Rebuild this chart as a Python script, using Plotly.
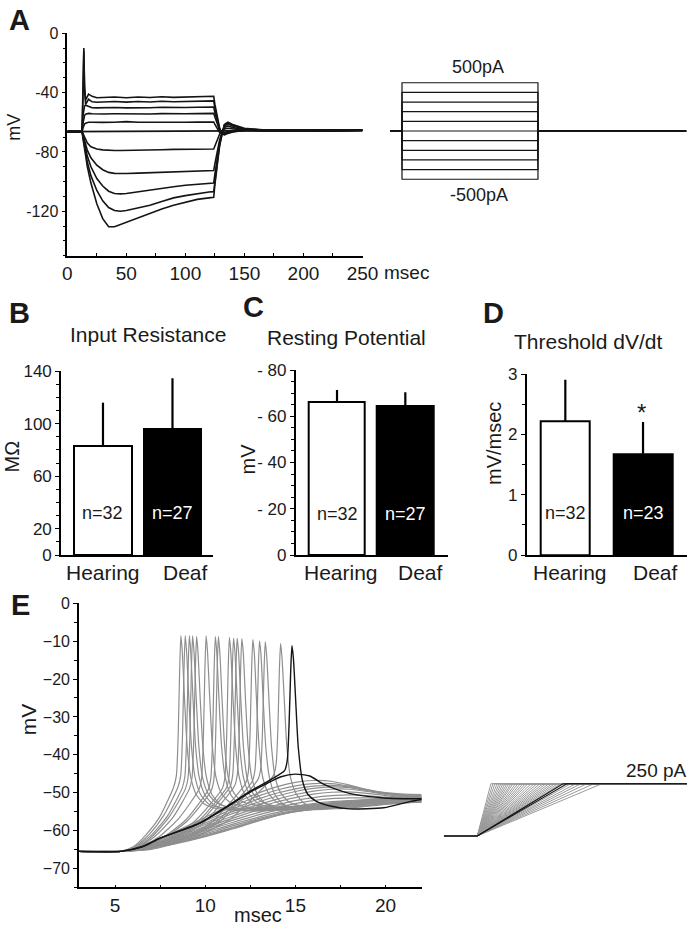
import plotly.graph_objects as go

W, H = 688, 927
FONT = "Liberation Sans, Arial, Helvetica, sans-serif"

def dom_x(a, b):
    return [max(0, a / W), min(1, b / W)]

def dom_y(top, bottom):
    return [max(0, 1 - bottom / H), min(1, 1 - top / H)]

# ---------------- Panel A data ----------------
tA_dep = [0, 12.5, 13.2, 14, 14.6, 15.5, 18, 21, 25, 30, 40, 50, 60, 70, 80, 90, 100, 110, 120, 124,
          125, 127, 129, 131, 133, 136, 140, 145, 150, 170, 200, 250]
vA_500 = [-66.3, -66.3, -40, -10, -35, -45, -41, -42.5, -43.5, -43.2, -43, -43.5, -43, -43.3, -42.8, -43.2,
          -43, -42.8, -42.5, -42.5, -48, -57, -64, -67.5, -68.5, -67.5, -66.5, -66, -65.5, -65.5, -65.5, -65.3]
vA_400 = [-66.3, -66.3, -45, -12, -38, -48, -44.5, -46.2, -46.5, -46.3, -46, -46.4, -46, -46.3, -45.8, -46.2,
          -46, -45.8, -45.6, -45.6, -50.5, -58.5, -64.5, -67.5, -68.3, -67.3, -66.3, -65.8, -65.5, -65.5, -65.5, -65.3]
vA_300 = [-66.3, -66.3, -56, -51, -49, -48.5, -49.5, -50.2, -50.3, -50.2, -50, -50.3, -50, -50.2, -49.9, -50.1,
          -50, -49.9, -49.7, -49.7, -53.5, -60, -65, -67.5, -68, -67, -66.2, -65.8, -65.5, -65.5, -65.5, -65.3]
vA_200 = [-66.3, -66.3, -61, -57, -55.5, -54.5, -54, -54.3, -54.5, -54.4, -54.3, -54.5, -54.3, -54.4, -54.2, -54.4,
          -54.3, -54.2, -54, -54, -56.5, -61.5, -65.5, -67.5, -67.8, -66.8, -66, -65.7, -65.5, -65.5, -65.5, -65.3]
vA_100 = [-66.3, -66.3, -64, -62.2, -61.2, -60.6, -60, -60, -60.2, -60.1, -60, -59.6, -60, -60.1, -59.9, -60.2,
          -60, -59.9, -59.8, -59.8, -61.5, -64.5, -66.8, -67.5, -67.3, -66.5, -66, -65.7, -65.5, -65.5, -65.5, -65.3]
vA_0 = [-66.3, -66.3, -66.3, -66.3, -66.3, -66.3, -66.3, -66.3, -66.3, -66.3, -66.3, -66.3, -66.3, -66.3, -66.3, -66.3,
        -66.3, -66.3, -66.3, -66.3, -66.3, -66.3, -66.3, -66.3, -66.2, -66, -65.8, -65.7, -65.6, -65.5, -65.5, -65.3]

tA_hyp = [0, 12.5, 13.5, 15, 17, 20, 25, 30, 35, 40, 45, 50, 60, 70, 80, 90, 100, 110, 120, 124,
          125, 127, 129, 131, 133, 136, 140, 150, 170, 200, 250]
vA_m100 = [-66.3, -66.3, -68, -71, -74, -76.5, -78, -78.6, -79, -79, -79, -79, -78.8, -78.6, -78.5, -78.3, -78.2,
           -78.1, -78, -78, -76, -72, -68, -66, -64.5, -64, -64.5, -65.5, -66, -66, -65.5]
vA_m200 = [-66.3, -66.3, -69, -74, -79, -84, -89, -92, -93.8, -94.5, -94.8, -94.6, -94.3, -94, -93.6, -93.3, -93,
           -92.8, -92.6, -92.6, -88, -80, -72, -67, -63.5, -62.5, -63.5, -65, -65.8, -66, -65.5]
vA_m300 = [-66.3, -66.3, -70, -76, -83, -90, -98, -103, -106.5, -108, -108.3, -108, -107, -105.8, -104.5, -103.5,
           -102.5, -101.8, -101.2, -101, -95, -84, -74, -67.5, -62.5, -61, -62.5, -64.5, -65.5, -66, -65.5]
vA_m400 = [-66.3, -66.3, -71, -78, -87, -96, -106, -113, -117.5, -119.5, -120, -119.5, -118, -116, -113.5, -111,
           -109.5, -108, -107, -106.8, -99, -87, -75, -67.5, -62, -60.5, -62, -64.5, -65.5, -66, -65.5]
vA_m500 = [-66.3, -66.3, -72, -80, -90, -101, -115, -125, -130.5, -130.5, -129, -127.3, -124, -121.5, -118.5, -116,
           -113.8, -112, -111, -110.6, -102, -89, -76, -68, -61.5, -60, -61.5, -64, -65.5, -66, -65.5]

A_ticks = [0, 50, 100, 150, 200, 250]
A_yticks = [-120, -80, -40, 0]

# Panel A stimulus (current steps, pA)
stepA_currents = [500, 400, 300, 200, 100, 0, -100, -200, -300, -400, -500]
stepA_on, stepA_off = 13, 124
stepA_start, stepA_end = 3.2, 245

# ---------------- Panels B-D data ----------------
groups = ["Hearing", "Deaf"]
B_mean = [83.2, 95.7]
B_err = [32.7, 38.8]
B_n = ["n=32", "n=27"]
C_mean = [-66.0, -64.4]
C_err = [5.4, 6.0]
C_n = ["n=32", "n=27"]
D_mean = [2.22, 1.68]
D_err = [0.69, 0.53]
D_n = ["n=32", "n=23"]

# ---------------- Panel E data ----------------
E_spk_t = [
    [3, 5.3, 6.0, 6.7, 7.5, 8.25, 8.40, 8.50, 8.58, 8.65, 8.73, 8.85, 9.00, 9.20, 9.50, 9.95, 10.65, 12, 14, 16, 18, 20, 22],
    [3, 5.3, 6.1, 6.9, 7.7, 8.49, 8.64, 8.74, 8.82, 8.89, 8.97, 9.09, 9.24, 9.44, 9.74, 10.19, 10.89, 12, 14, 16, 18, 20, 22],
    [3, 5.3, 6.1, 7.0, 7.9, 8.72, 8.87, 8.97, 9.05, 9.12, 9.20, 9.32, 9.47, 9.67, 9.97, 10.42, 11.12, 12.5, 14, 16, 18, 20, 22],
    [3, 5.3, 6.2, 7.1, 8.0, 8.90, 9.05, 9.15, 9.23, 9.30, 9.38, 9.50, 9.65, 9.85, 10.15, 10.60, 11.30, 12.5, 14, 16, 18, 20, 22],
    [3, 5.3, 6.2, 7.2, 8.2, 9.12, 9.27, 9.37, 9.45, 9.52, 9.60, 9.72, 9.87, 10.07, 10.37, 10.82, 11.52, 13, 15, 17, 19, 22],
    [3, 5.3, 6.3, 7.4, 8.5, 9.65, 9.80, 9.90, 9.98, 10.05, 10.13, 10.25, 10.40, 10.60, 10.90, 11.35, 12.05, 13.5, 15, 17, 19, 22],
    [3, 5.3, 6.4, 7.6, 8.9, 10.16, 10.31, 10.41, 10.49, 10.56, 10.64, 10.76, 10.91, 11.11, 11.41, 11.86, 12.56, 14, 16, 18, 20, 22],
    [3, 5.3, 6.4, 7.7, 9.0, 10.33, 10.48, 10.58, 10.66, 10.73, 10.81, 10.93, 11.08, 11.28, 11.58, 12.03, 12.73, 14, 16, 18, 20, 22],
    [3, 5.3, 6.5, 7.9, 9.4, 10.94, 11.09, 11.19, 11.27, 11.34, 11.42, 11.54, 11.69, 11.89, 12.19, 12.64, 13.34, 15, 17, 19, 22],
    [3, 5.3, 6.5, 8.0, 9.6, 11.17, 11.32, 11.42, 11.50, 11.57, 11.65, 11.77, 11.92, 12.12, 12.42, 12.87, 13.57, 15, 17, 19, 22],
    [3, 5.3, 6.6, 8.1, 9.7, 11.37, 11.52, 11.62, 11.70, 11.77, 11.85, 11.97, 12.12, 12.32, 12.62, 13.07, 13.77, 15.5, 17.5, 19.5, 22],
    [3, 5.3, 6.6, 8.2, 9.9, 11.63, 11.78, 11.88, 11.96, 12.03, 12.11, 12.23, 12.38, 12.58, 12.88, 13.33, 14.03, 15.5, 17.5, 19.5, 22],
    [3, 5.3, 6.7, 8.4, 10.3, 12.24, 12.39, 12.49, 12.57, 12.64, 12.72, 12.84, 12.99, 13.19, 13.49, 13.94, 14.64, 16, 18, 20, 22],
    [3, 5.3, 6.8, 8.6, 10.6, 12.61, 12.76, 12.86, 12.94, 13.01, 13.09, 13.21, 13.36, 13.56, 13.86, 14.31, 15.01, 16.5, 18.5, 20.5, 22],
    [3, 5.3, 6.8, 8.7, 10.8, 12.93, 13.08, 13.18, 13.26, 13.33, 13.41, 13.53, 13.68, 13.88, 14.18, 14.63, 15.33, 17, 19, 22],
    [3, 5.3, 7.0, 9.0, 11.3, 13.78, 13.93, 14.03, 14.11, 14.18, 14.26, 14.38, 14.53, 14.73, 15.03, 15.48, 16.18, 18, 20, 22],
]
E_spk_v = [
    [-65.5, -65.5, -64.3, -61.2, -56.2, -48.5, -45.5, -35, -18, -8.5, -13, -25, -38, -46, -50.5, -53, -54.2, -54.6, -54.2, -53.3, -52.4, -51.7, -51.3],
    [-65.5, -65.5, -64.3, -61.0, -56.0, -48.5, -45.5, -35, -18, -8.5, -13, -25, -38, -46, -50.5, -53, -54, -54.3, -54, -53.2, -52.2, -51.5, -51.1],
    [-65.5, -65.5, -64.5, -61.3, -56.2, -48.8, -45.8, -35, -18, -8.5, -13, -25, -38, -46, -50.5, -53, -54.3, -54.8, -54.5, -53.5, -52.5, -51.8, -51.4],
    [-65.5, -65.5, -64.5, -61.4, -56.4, -49, -46, -35, -18, -8.6, -13, -25, -38, -46, -50.2, -52.6, -53.8, -54.2, -54, -53.2, -52.3, -51.6, -51.2],
    [-65.5, -65.5, -64.6, -61.6, -56.6, -49, -46, -35, -18, -8.7, -13, -25, -38, -46, -50.5, -53, -54.4, -54.8, -54.3, -53.4, -52.4, -51.5],
    [-65.5, -65.5, -64.6, -61.8, -57, -49.2, -46.2, -35, -18, -8.6, -13, -25, -38, -46, -50.2, -52.5, -53.6, -54, -53.8, -53.1, -52.2, -51.4],
    [-65.5, -65.5, -64.6, -62, -57.3, -49.3, -46.3, -35, -18, -8.8, -13, -25, -38, -46, -50.5, -53, -54.3, -54.6, -54, -53, -52.2, -51.6],
    [-65.5, -65.5, -64.7, -62, -57.5, -49.5, -46.5, -35, -18, -8.8, -13, -25, -38, -46, -50, -52.3, -53.3, -53.6, -53.4, -52.7, -51.9, -51.3],
    [-65.5, -65.5, -64.7, -62.2, -57.6, -49, -46, -35, -18, -9.0, -13, -25, -38, -46, -50.5, -53, -54.2, -54.5, -53.6, -52.6, -51.5],
    [-65.5, -65.5, -64.8, -62.3, -57.6, -48.8, -45.8, -35, -18, -9.2, -13, -25, -38, -46, -50.2, -52.6, -53.8, -54.2, -53.5, -52.6, -51.6],
    [-65.5, -65.5, -64.8, -62.4, -57.8, -48.5, -45.5, -35, -18, -9.2, -13, -25, -38, -46, -50, -52.2, -53.4, -53.8, -53.2, -52.3, -51.5],
    [-65.5, -65.5, -64.9, -62.5, -58, -48.2, -45.2, -35, -18, -9.3, -13, -25, -38, -46, -50.3, -52.8, -54, -54.3, -53.6, -52.6, -51.7],
    [-65.5, -65.5, -64.9, -62.6, -58, -47.5, -44.5, -34, -18, -9.6, -13, -25, -38, -46, -50, -52.5, -53.6, -53.9, -53.2, -52.2, -51.6],
    [-65.5, -65.5, -64.9, -62.5, -57.8, -47, -44, -34, -18, -9.9, -13.5, -25, -38, -46, -50.5, -53, -54, -54.2, -53.3, -52.3, -51.8],
    [-65.5, -65.5, -65, -62.6, -57.6, -46.5, -43.5, -33, -18, -10.1, -14, -25, -38, -46, -50, -52.4, -53.5, -53.6, -52.6, -51.7],
    [-65.5, -65.5, -65, -62.5, -57.3, -45.5, -42.5, -33, -18, -10.6, -14.5, -25, -38, -46, -50.2, -52.8, -54, -54, -52.8, -51.9],
]
tN = [3, 5.3, 6, 7, 8, 9, 10, 11, 12, 13, 14, 15, 16, 17, 18, 19, 20, 21, 22]
E_sub_v = [
    [-65.5, -65.5, -65.2, -64.6, -63.8, -62.8, -61.6, -60.3, -58.9, -57.4, -56.0, -55.0, -54.5, -54.3, -54.1, -53.6, -53.1, -52.7, -52.4],
    [-65.5, -65.5, -65.2, -64.5, -63.7, -62.6, -61.4, -60.1, -58.7, -57.3, -56, -55, -54.4, -54.1, -53.8, -53.4, -53, -52.7, -52.5],
    [-65.5, -65.5, -65.2, -64.5, -63.6, -62.5, -61.2, -59.9, -58.5, -57.1, -55.9, -54.9, -54.3, -53.9, -53.6, -53.3, -52.9, -52.6, -52.4],
    [-65.5, -65.5, -65.1, -64.4, -63.4, -62.2, -60.9, -59.5, -58.1, -56.8, -55.6, -54.7, -54, -53.6, -53.3, -53, -52.7, -52.5, -52.3],
    [-65.5, -65.5, -65.1, -64.3, -63.2, -61.9, -60.5, -59.1, -57.7, -56.4, -55.2, -54.2, -53.5, -53, -52.7, -52.5, -52.4, -52.3, -52.2],
    [-65.5, -65.5, -65.1, -64.2, -63, -61.6, -60.1, -58.6, -57.2, -55.8, -54.6, -53.6, -52.9, -52.4, -52.1, -52, -52, -52.1, -52.1],
    [-65.5, -65.5, -65, -64.1, -62.8, -61.3, -59.7, -58.1, -56.6, -55.2, -53.9, -52.9, -52.1, -51.6, -51.4, -51.4, -51.6, -51.9, -52],
    [-65.5, -65.5, -65, -64, -62.6, -61, -59.3, -57.6, -56, -54.5, -53.2, -52.1, -51.3, -50.8, -50.6, -50.8, -51.2, -51.6, -51.8],
    [-65.5, -65.5, -65, -63.9, -62.4, -60.7, -58.9, -57.1, -55.4, -53.8, -52.4, -51.3, -50.4, -49.9, -49.8, -50.2, -50.8, -51.3, -51.5],
    [-65.5, -65.5, -64.9, -63.7, -62.1, -60.3, -58.4, -56.5, -54.7, -53.1, -51.7, -50.5, -49.6, -49.1, -49.1, -49.7, -50.5, -51.1, -51.3],
    [-65.5, -65.5, -64.9, -63.6, -61.9, -60, -58, -56, -54.1, -52.4, -50.9, -49.7, -48.9, -48.5, -48.7, -49.5, -50.3, -50.9, -51.1],
    [-65.5, -65.5, -64.8, -63.4, -61.6, -59.6, -57.5, -55.4, -53.4, -51.6, -50.1, -49, -48.3, -48.1, -48.5, -49.4, -50.2, -50.7, -50.9],
    [-65.5, -65.5, -64.8, -63.2, -61.3, -59.2, -57, -54.8, -52.7, -50.8, -49.3, -48.2, -47.6, -47.6, -48.3, -49.3, -50.1, -50.5, -50.7],
    [-65.5, -65.5, -64.7, -63.0, -61.0, -58.8, -56.5, -54.2, -52.0, -50.0, -48.4, -47.3, -46.8, -47.0, -48.0, -49.2, -50.0, -50.4, -50.5],
]
E_black_spk_t = [3, 5.3, 6.5, 7.5, 9.7, 11.5, 12.5, 13.4, 14.4, 14.55, 14.65, 14.74, 14.81, 14.89, 15.01, 15.16, 15.4, 15.7, 16.17, 17, 18, 19.9, 21.4, 22]
E_black_spk_v = [-65.5, -65.5, -64.3, -62, -58, -52.7, -49.6, -47.2, -44.2, -41.5, -32, -18, -11.2, -14.5, -25, -38, -47, -50.5, -52.3, -53.6, -54.3, -54, -52.3, -51.8]
E_black_sub_t = [3, 5.3, 6.5, 7.5, 9.7, 11.5, 12.5, 13.4, 14.2, 15, 15.8, 16.5, 17.2, 18, 19, 19.9, 21, 22]
E_black_sub_v = [-65.5, -65.5, -64.3, -62, -58.1, -52.9, -49.9, -47.6, -45.8, -45.1, -45.6, -47.6, -49, -50.2, -51, -51.4, -51.6, -51.6]

E_xticks = [5, 10, 15, 20]
E_yticks = [0, -10, -20, -30, -40, -50, -60, -70]

# Panel E stimulus: current ramps to 250 pA (ramp durations, ms)
ramp_start = 5.0
ramp_top = 250
ramp_gray = [0.76, 0.87, 0.98, 1.10, 1.21, 1.32, 1.43, 1.54, 1.65, 1.76, 1.88, 1.99, 2.13, 2.26, 2.40, 2.54,
             2.68, 2.82, 2.99, 3.16, 3.32, 3.49, 3.66, 3.82, 3.99, 4.16, 4.32, 4.49, 4.66, 5.21, 5.49, 5.77,
             6.10, 6.49, 6.94]
ramp_black = [4.77, 4.99]
ramp_t0, ramp_t1 = 3.15, 16.67

# ---------------- Figure ----------------
fig = go.Figure()
BLACK = "#141414"
GRAY = "#8e8e8e"

for v in [vA_500, vA_400, vA_300, vA_200, vA_100, vA_0]:
    fig.add_trace(go.Scatter(x=tA_dep, y=v, mode="lines", line=dict(color=BLACK, width=1.6),
                             xaxis="x", yaxis="y", hoverinfo="skip"))
for v in [vA_m100, vA_m200, vA_m300, vA_m400, vA_m500]:
    fig.add_trace(go.Scatter(x=tA_hyp, y=v, mode="lines", line=dict(color=BLACK, width=1.6),
                             xaxis="x", yaxis="y", hoverinfo="skip"))
for I in stepA_currents:
    fig.add_trace(go.Scatter(x=[stepA_start, stepA_on, stepA_on, stepA_off, stepA_off, stepA_end],
                             y=[0, 0, I, I, 0, 0], mode="lines", line=dict(color=BLACK, width=1.2),
                             xaxis="x2", yaxis="y2", hoverinfo="skip"))

def add_bars(ax, means, errs_plus, errs_minus, widths):
    fig.add_trace(go.Bar(x=[0, 1], y=means, width=widths,
                         marker=dict(color=["white", "black"], line=dict(color="black", width=2)),
                         error_y=dict(type="data", symmetric=False, array=errs_plus, arrayminus=errs_minus,
                                      color="black", thickness=2.2, width=0),
                         xaxis="x" + ax, yaxis="y" + ax, hoverinfo="skip"))

add_bars("3", B_mean, B_err, [0, 0], [0.83, 0.82])
add_bars("4", C_mean, [0, 0], C_err, [0.82, 0.84])
add_bars("5", D_mean, D_err, [0, 0], [0.634, 0.764])

for t, v in zip(E_spk_t, E_spk_v):
    fig.add_trace(go.Scatter(x=t, y=v, mode="lines", line=dict(color=GRAY, width=1.2, shape="spline", smoothing=0.6),
                             xaxis="x6", yaxis="y6", hoverinfo="skip"))
for v in E_sub_v:
    fig.add_trace(go.Scatter(x=tN, y=v, mode="lines", line=dict(color=GRAY, width=1.2, shape="spline", smoothing=0.6),
                             xaxis="x6", yaxis="y6", hoverinfo="skip"))
fig.add_trace(go.Scatter(x=E_black_sub_t, y=E_black_sub_v, mode="lines",
                         line=dict(color=BLACK, width=1.4, shape="spline", smoothing=0.6),
                         xaxis="x6", yaxis="y6", hoverinfo="skip"))
fig.add_trace(go.Scatter(x=E_black_spk_t, y=E_black_spk_v, mode="lines",
                         line=dict(color=BLACK, width=1.4, shape="spline", smoothing=0.6),
                         xaxis="x6", yaxis="y6", hoverinfo="skip"))

for d in ramp_gray:
    fig.add_trace(go.Scatter(x=[ramp_t0, ramp_start, ramp_start + d, ramp_t1], y=[0, 0, ramp_top, ramp_top],
                             mode="lines", line=dict(color="#9a9a9a", width=1.0),
                             xaxis="x7", yaxis="y7", hoverinfo="skip"))
for d in ramp_black:
    fig.add_trace(go.Scatter(x=[ramp_t0, ramp_start, ramp_start + d, ramp_t1], y=[0, 0, ramp_top, ramp_top],
                             mode="lines", line=dict(color=BLACK, width=1.1),
                             xaxis="x7", yaxis="y7", hoverinfo="skip"))

ax_common = dict(showgrid=False, zeroline=False, showline=True, linecolor="black", linewidth=1.6,
                 tickcolor="black", tickwidth=1.3, automargin=False)
bar_x = dict(ax_common, ticks="", showticklabels=False)

fig.update_layout(
    template="none",
    width=W, height=H, margin=dict(l=0, r=0, t=0, b=0, pad=0, autoexpand=False),
    paper_bgcolor="white", plot_bgcolor="white", showlegend=False,
    font=dict(family=FONT, color="#1a1a1a"),
    bargap=0,
    xaxis=dict(ax_common, domain=dom_x(67.3, 362.5), range=[0, 250], anchor="y",
               tickmode="array", tickvals=A_ticks, ticktext=[str(v) for v in A_ticks],
               ticks="inside", ticklen=3, tickfont=dict(size=19),
               minor=dict(ticks="inside", ticklen=3, dtick=25, tick0=0, tickcolor="black")),
    yaxis=dict(ax_common, domain=dom_y(33.3, 255.7), range=[-150, 0], anchor="x",
               tickmode="array", tickvals=A_yticks, ticktext=[str(v) for v in A_yticks],
               ticks="outside", ticklen=4, tickfont=dict(size=16),
               minor=dict(ticks="outside", ticklen=3, dtick=10, tick0=0, tickcolor="black")),
    xaxis2=dict(visible=False, domain=dom_x(387.3, 688), range=[1, 246.5], anchor="y2"),
    yaxis2=dict(visible=False, domain=dom_y(77.9, 184.1), range=[-550, 550], anchor="x2"),
    xaxis3=dict(bar_x, domain=dom_x(61, 213), range=[-0.604, 1.583], anchor="y3"),
    yaxis3=dict(ax_common, domain=dom_y(371, 555), range=[0, 140], anchor="x3",
                tickmode="array", tickvals=[0, 20, 60, 100, 140], ticks="outside", ticklen=4,
                tickfont=dict(size=17),
                minor=dict(ticks="outside", ticklen=3, dtick=10, tick0=0, tickcolor="black")),
    xaxis4=dict(bar_x, domain=dom_x(295.7, 448), range=[-0.605, 1.625], anchor="y4"),
    yaxis4=dict(ax_common, domain=dom_y(370, 555), range=[0, -80], anchor="x4",
                tickmode="array", tickvals=[0, -20, -40, -60, -80],
                ticktext=["0", "- 20", "- 40", "- 60", "- 80"], ticks="outside", ticklen=4,
                tickfont=dict(size=17),
                minor=dict(ticks="outside", ticklen=3, dtick=5, tick0=0, tickcolor="black")),
    xaxis5=dict(bar_x, domain=dom_x(526.7, 686.7), range=[-0.497, 1.562], anchor="y5"),
    yaxis5=dict(ax_common, domain=dom_y(374.3, 555), range=[0, 3], anchor="x5",
                tickmode="array", tickvals=[0, 1, 2, 3], ticks="outside", ticklen=4,
                tickfont=dict(size=17),
                minor=dict(ticks="outside", ticklen=3, dtick=0.5, tick0=0, tickcolor="black")),
    xaxis6=dict(ax_common, domain=dom_x(79, 421.6), range=[3, 22], anchor="y6",
                tickmode="array", tickvals=E_xticks, ticks="inside", ticklen=3, tickfont=dict(size=19),
                minor=dict(ticks="inside", ticklen=3, dtick=2.5, tick0=0, tickcolor="black")),
    yaxis6=dict(ax_common, domain=dom_y(603.3, 887.3), range=[-75, 0], anchor="x6",
                tickmode="array", tickvals=E_yticks, ticks="outside", ticklen=4, tickfont=dict(size=16),
                minor=dict(ticks="outside", ticklen=3, dtick=5, tick0=0, tickcolor="black")),
    xaxis7=dict(visible=False, domain=dom_x(441.3, 687.5), range=[3, 16.7], anchor="y7"),
    yaxis7=dict(visible=False, domain=dom_y(779.5, 840.2), range=[-20, 270], anchor="x7"),
)

def ann(text, x, y, size, bold=False, color="#1a1a1a", angle=0, xanchor="center"):
    fig.add_annotation(text=("<b>%s</b>" % text) if bold else text, x=x / W, y=1 - y / H,
                       xref="paper", yref="paper", showarrow=False, xanchor=xanchor, yanchor="middle",
                       textangle=angle, font=dict(family=FONT, size=size, color=color))

def ann_data(text, ax, x, y, size, color="#1a1a1a"):
    fig.add_annotation(text=text, x=x, y=y, xref="x" + ax, yref="y" + ax, showarrow=False,
                       xanchor="center", yanchor="middle", font=dict(family=FONT, size=size, color=color))

ann("A", 19, 20, 29, bold=True)
ann("B", 19, 313, 29, bold=True)
ann("C", 253, 307, 29, bold=True)
ann("D", 493, 313, 29, bold=True)
ann("E", 20, 605, 29, bold=True)

ann("mV", 13.7, 127, 18, angle=-90)
ann("msec", 382, 272.7, 19, xanchor="left")
ann("500pA", 478.3, 67, 18)
ann("-500pA", 479.2, 195, 18)

ann("Input Resistance", 148.3, 334, 21)
ann("Resting Potential", 346.7, 337.5, 21)
ann("Threshold dV/dt", 587.5, 341.5, 21)

ann("MΩ", 11.7, 456.7, 20, angle=-90)
ann("mV", 247.5, 459, 20, angle=-90)
ann("mV/msec", 494, 444, 20, angle=-90)

for (xh, xd) in [(103.3, 185.3), (340.8, 420.8), (570, 655.8)]:
    ann(groups[0], xh, 572, 21)
    ann(groups[1], xd, 572, 21)

ann_data(B_n[0], "3", 0, 32, 18)
ann_data(B_n[1], "3", 1, 32, 18, color="white")
ann_data(C_n[0], "4", 0, -17.7, 18)
ann_data(C_n[1], "4", 1, -17.7, 18, color="white")
ann_data(D_n[0], "5", 0, 0.70, 18)
ann_data(D_n[1], "5", 1, 0.70, 18, color="white")
ann_data("*", "5", 0.98, 2.36, 24)

ann("mV", 28.3, 719, 21, angle=-90)
ann("msec", 257.5, 915, 20)
ann("250 pA", 656.7, 770, 19)

fig.write_html("out.html", config={"displayModeBar": False},
               post_script="document.body.style.margin='0px';document.body.style.padding='0px';")
